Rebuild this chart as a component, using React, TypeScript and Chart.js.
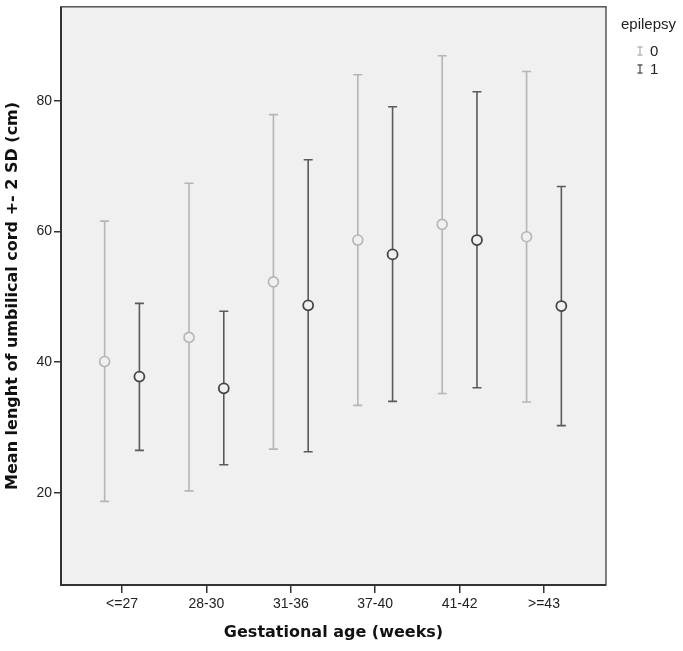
import React, { useEffect, useRef } from "react";
import { Chart, registerables } from "chart.js";

Chart.register(...registerables);

const categories = ["<=27", "28-30", "31-36", "37-40", "41-42", ">=43"];
const mean0 = [40.1, 43.8, 52.3, 58.7, 61.1, 59.2];
const upper0 = [61.6, 67.4, 77.9, 84.0, 86.9, 84.5];
const lower0 = [18.7, 20.3, 26.7, 33.4, 35.2, 33.9];
const mean1 = [37.8, 36.0, 48.7, 56.5, 58.7, 48.6];
const upper1 = [49.0, 47.8, 71.0, 79.1, 81.4, 66.9];
const lower1 = [26.5, 24.3, 26.3, 34.0, 36.1, 30.3];
const yTicks = [20, 40, 60, 80];
const groupLabels = ["0", "1"];
const legendTitle = "epilepsy";

const LIGHT = "#b5b5b5";
const DARK = "#5a5a5a";
const BG = "#f0f0f0";
const OFFSET = 0.206;
const TITLE_FONT = "'DejaVu Sans', Verdana, sans-serif";
const TICK_FONT = "'Liberation Sans', Arial, sans-serif";

const errorBars = [
  { color: LIGHT, mean: mean0, upper: upper0, lower: lower0, shift: -OFFSET },
  { color: DARK, mean: mean1, upper: upper1, lower: lower1, shift: OFFSET },
];

const plotPlugin = {
  id: "plotDecor",
  beforeDraw(chart: any) {
    const { ctx, chartArea: a } = chart;
    ctx.save();
    ctx.fillStyle = BG;
    ctx.fillRect(a.left, a.top, a.right - a.left, a.bottom - a.top);
    ctx.restore();
  },
  beforeDatasetsDraw(chart: any) {
    const { ctx, scales } = chart;
    const xs = scales.x;
    const ys = scales.y;
    ctx.save();
    ctx.lineWidth = 1.6;
    errorBars.forEach((g) => {
      ctx.strokeStyle = g.color;
      g.mean.forEach((_, i) => {
        const x = xs.getPixelForValue(i + g.shift);
        const yt = ys.getPixelForValue(g.upper[i]);
        const yb = ys.getPixelForValue(g.lower[i]);
        ctx.beginPath();
        ctx.moveTo(x, yt);
        ctx.lineTo(x, yb);
        ctx.moveTo(x - 4.5, yt);
        ctx.lineTo(x + 4.5, yt);
        ctx.moveTo(x - 4.5, yb);
        ctx.lineTo(x + 4.5, yb);
        ctx.stroke();
      });
    });
    ctx.restore();
  },
  afterDraw(chart: any) {
    const { ctx, chartArea: a } = chart;
    ctx.save();
    ctx.strokeStyle = "#555";
    ctx.lineWidth = 1.5;
    ctx.strokeRect(a.left, a.top, a.right - a.left, a.bottom - a.top);
    ctx.strokeStyle = "#333";
    ctx.lineWidth = 2;
    ctx.beginPath();
    ctx.moveTo(a.left, a.top);
    ctx.lineTo(a.left, a.bottom);
    ctx.lineTo(a.right, a.bottom);
    ctx.stroke();

    // legend
    ctx.fillStyle = "#222";
    ctx.font = "15px " + TICK_FONT;
    ctx.textBaseline = "middle";
    ctx.textAlign = "left";
    ctx.fillText(legendTitle, 621, 25);
    const colors = [LIGHT, DARK];
    groupLabels.forEach((lab, k) => {
      const y = 51 + k * 18;
      const gx = 640;
      ctx.strokeStyle = colors[k];
      ctx.lineWidth = 1.3;
      ctx.beginPath();
      ctx.moveTo(gx, y - 4);
      ctx.lineTo(gx, y + 4);
      ctx.moveTo(gx - 2.5, y - 4);
      ctx.lineTo(gx + 2.5, y - 4);
      ctx.moveTo(gx - 2.5, y + 4);
      ctx.lineTo(gx + 2.5, y + 4);
      ctx.stroke();
      ctx.fillStyle = "#222";
      ctx.fillText(lab, 650, y + 1);
    });
    ctx.restore();
  },
};

export default function App() {
  const ref = useRef<HTMLCanvasElement>(null);
  useEffect(() => {
    document.body.style.margin = "0";
    const canvas = ref.current;
    if (!canvas) return;
    const chart = new Chart(canvas, {
      type: "scatter",
      data: {
        datasets: [
          {
            label: groupLabels[0],
            data: mean0.map((v, i) => ({ x: i - OFFSET, y: v })),
            borderColor: LIGHT,
            backgroundColor: BG,
            pointRadius: 5,
            pointBorderWidth: 1.6,
          },
          {
            label: groupLabels[1],
            data: mean1.map((v, i) => ({ x: i + OFFSET, y: v })),
            borderColor: "#444",
            backgroundColor: BG,
            pointRadius: 5,
            pointBorderWidth: 1.8,
          },
        ],
      },
      options: {
        animation: false,
        responsive: true,
        maintainAspectRatio: false,
        layout: { padding: { top: 5, right: 77, left: 0, bottom: 0 } },
        plugins: { legend: { display: false }, tooltip: { enabled: false } },
        scales: {
          x: {
            type: "linear",
            min: -0.723,
            max: 5.735,
            afterBuildTicks: (s: any) => {
              s.ticks = categories.map((_, i) => ({ value: i }));
            },
            afterFit: (s: any) => {
              s.height = 66;
              s.paddingLeft = 0;
              s.paddingRight = 0;
            },
            ticks: {
              callback: (v: any) => categories[v] ?? "",
              color: "#222",
              font: { size: 14, family: TICK_FONT },
              padding: 3,
              maxRotation: 0,
              autoSkip: false,
            },
            grid: { drawOnChartArea: false, drawTicks: true, tickLength: 8, color: "#333", lineWidth: 1.5 },
            border: { display: false },
            title: {
              display: true,
              text: "Gestational age (weeks)",
              color: "#111",
              font: { size: 16, weight: "bold", family: TITLE_FONT },
              padding: { top: 0, bottom: 9 },
            },
          },
          y: {
            min: 5.9,
            max: 94.4,
            afterBuildTicks: (s: any) => {
              s.ticks = yTicks.map((v) => ({ value: v }));
            },
            afterFit: (s: any) => {
              s.width = 61;
              s.paddingTop = 0;
              s.paddingBottom = 0;
            },
            ticks: {
              color: "#222",
              font: { size: 14, family: TICK_FONT },
              padding: 2,
            },
            grid: { drawOnChartArea: false, drawTicks: true, tickLength: 7, color: "#333", lineWidth: 1.5 },
            border: { display: false },
            title: {
              display: true,
              text: "Mean lenght of umbilical cord +- 2 SD (cm)",
              color: "#111",
              font: { size: 16, weight: "bold", family: TITLE_FONT },
              padding: { top: 3, bottom: 0 },
            },
          },
        },
      },
      plugins: [plotPlugin],
    });
    return () => chart.destroy();
  }, []);
  return (
    <div style={{ position: "relative", width: 683, height: 651 }}>
      <canvas ref={ref} />
    </div>
  );
}
